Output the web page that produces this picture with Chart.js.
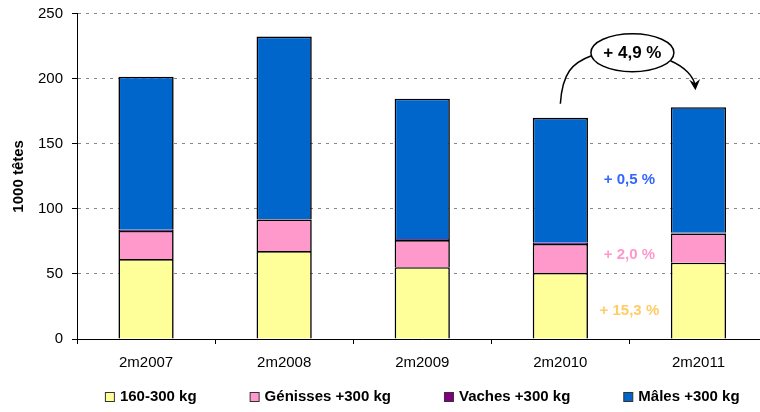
<!DOCTYPE html>
<html>
<head>
<meta charset="utf-8">
<script src="https://cdn.jsdelivr.net/npm/chart.js@4/dist/chart.umd.min.js"></script>
<style>
  html, body { margin: 0; padding: 0; background: #fff; overflow: hidden; }
  #wrap { width: 770px; height: 412px; }
</style>
</head>
<body>
<div id="wrap"><canvas id="chart" width="770" height="412"></canvas></div>
<script>
// --- data (1000 têtes) ---
const periods   = ['2m2007', '2m2008', '2m2009', '2m2010', '2m2011'];
const lightCalf = [61.4, 67.6, 55.2, 50.8, 58.6];   // 160-300 kg
const heifers   = [21.6, 24.3, 20.8, 22.2, 22.5];   // Génisses +300 kg
const cows      = [1.0, 0.4, 0.9, 1.0, 0.5];        // Vaches +300 kg
const males     = [117.6, 140.1, 107.8, 96.0, 96.5]; // Mâles +300 kg
const yTicks    = [0, 50, 100, 150, 200, 250];

// evolution labels between 2m2010 and 2m2011
const shareTexts   = ['+ 0,5 %', '+ 2,0 %', '+ 15,3 %'];
const shareLevels  = [122, 65, 22];
const shareColours = ['#3366FF', '#FF99CC', '#FFCC66'];
const totalChange  = '+ 4,9 %';

const FONT = '"Liberation Sans", Arial, Helvetica, sans-serif';
Chart.defaults.font.family = FONT;
Chart.defaults.color = '#000';

const totals = periods.map((_, i) => lightCalf[i] + heifers[i] + cows[i] + males[i]);

// legend drawn under the plot, centred on the plot area
const bottomLegend = {
  id: 'bottomLegend',
  afterDraw(chart) {
    const { ctx, chartArea } = chart;
    const gap = 53;
    ctx.save();
    ctx.font = 'bold 15px ' + FONT;
    const items = chart.data.datasets.map(ds => ({
      ds, w: 15 + ctx.measureText(ds.label).width
    }));
    const total = items.reduce((s, it) => s + it.w, 0) + gap * (items.length - 1);
    let x = (chartArea.left + chartArea.right) / 2 - total / 2;
    const y = chart.height - 15;
    items.forEach(it => {
      ctx.fillStyle = it.ds.backgroundColor;
      ctx.fillRect(x + 0.5, y - 4.5, 9, 9);
      ctx.strokeStyle = '#333';
      ctx.lineWidth = 1;
      ctx.strokeRect(x + 0.5, y - 4.5, 9, 9);
      ctx.fillStyle = '#000';
      ctx.textBaseline = 'middle';
      ctx.textAlign = 'left';
      ctx.fillText(it.ds.label, x + 15, y);
      x += it.w + gap;
    });
    ctx.restore();
  }
};

// percentage notes, ellipse and curved arrows
const notes = {
  id: 'notes',
  afterDatasetsDraw(chart) {
    const { ctx, scales: { x, y } } = chart;
    ctx.save();

    // coloured evolution labels
    ctx.font = 'bold 15px ' + FONT;
    ctx.textAlign = 'center';
    ctx.textBaseline = 'middle';
    const xMid = x.getPixelForValue(3.5);
    shareTexts.forEach((t, i) => {
      ctx.fillStyle = shareColours[i];
      ctx.fillText(t, xMid, y.getPixelForValue(shareLevels[i]));
    });

    // anchors
    const x3 = x.getPixelForValue(3), x4 = x.getPixelForValue(4);
    const top3 = y.getPixelForValue(totals[3]);
    const top4 = y.getPixelForValue(totals[4]);
    const cx = xMid + 3, cy = y.getPixelForValue(220);

    ctx.strokeStyle = '#000';
    ctx.lineWidth = 1.5;

    // left curve
    ctx.beginPath();
    ctx.moveTo(x3, top3 - 14);
    ctx.bezierCurveTo(x3 + 2, cy + 20, x3 + 12, cy + 10, cx - 41, cy + 3);
    ctx.stroke();

    // right curve with arrow head
    const p2 = { x: x4 - 4, y: cy + 24 };
    const tip = { x: x4 - 3, y: top4 - 17 };
    ctx.beginPath();
    ctx.moveTo(cx + 38, cy + 8);
    ctx.bezierCurveTo(cx + 52, cy + 14, p2.x, p2.y, tip.x, tip.y - 3);
    ctx.stroke();
    const a = Math.atan2(tip.y - p2.y, tip.x - p2.x);
    ctx.save();
    ctx.translate(tip.x, tip.y);
    ctx.rotate(a);
    ctx.beginPath();
    ctx.moveTo(0, 0);
    ctx.lineTo(-11, -5.5);
    ctx.lineTo(-7, 0);
    ctx.lineTo(-11, 5.5);
    ctx.closePath();
    ctx.fillStyle = '#000';
    ctx.fill();
    ctx.restore();

    // ellipse with total change
    ctx.beginPath();
    ctx.ellipse(cx, cy, 41.5, 19, 0, 0, Math.PI * 2);
    ctx.fillStyle = '#fff';
    ctx.fill();
    ctx.lineWidth = 1.5;
    ctx.stroke();
    ctx.fillStyle = '#000';
    ctx.font = 'bold 17px ' + FONT;
    ctx.fillText(totalChange, cx, cy + 1);

    ctx.restore();
  }
};

const seg = (label, data, colour) => ({
  label, data,
  backgroundColor: colour,
  borderColor: '#000',
  borderWidth: 1.6,
  categoryPercentage: 1,
  barPercentage: 0.4
});

new Chart(document.getElementById('chart').getContext('2d'), {
  type: 'bar',
  data: {
    labels: periods,
    datasets: [
      seg('160-300 kg', lightCalf, '#FFFF99'),
      seg('Génisses +300 kg', heifers, '#FF99CC'),
      seg('Vaches +300 kg', cows, '#800080'),
      seg('Mâles +300 kg', males, '#0066CC')
    ]
  },
  options: {
    responsive: false,
    animation: false,
    layout: { padding: { top: 13.7, right: 2.5, bottom: 30, left: 0 } },
    plugins: {
      legend: { display: false },
      tooltip: { enabled: false }
    },
    scales: {
      x: {
        stacked: true,
        grid: { drawOnChartArea: false, offset: true, tickLength: 5, tickColor: '#000' },
        border: { color: '#000', width: 1 },
        ticks: { color: '#000', font: { size: 15 }, padding: 10 }
      },
      y: {
        stacked: true,
        min: yTicks[0],
        max: yTicks[yTicks.length - 1],
        afterBuildTicks: s => { s.ticks = yTicks.map(v => ({ value: v })); },
        afterFit: s => { s.width = 77; s.paddingTop = 0; s.paddingBottom = 0; },
        ticks: { color: '#000', font: { size: 15 }, padding: 9 },
        grid: { color: '#888', lineWidth: 1, tickColor: '#000', tickLength: 5 },
        border: { color: '#000', width: 1, dash: [3, 5] },
        title: {
          display: true,
          text: '1000 têtes',
          color: '#000',
          font: { size: 15, weight: 'bold' },
          padding: { top: 10, bottom: 0 }
        }
      }
    }
  },
  plugins: [notes, bottomLegend]
});
</script>
</body>
</html>
